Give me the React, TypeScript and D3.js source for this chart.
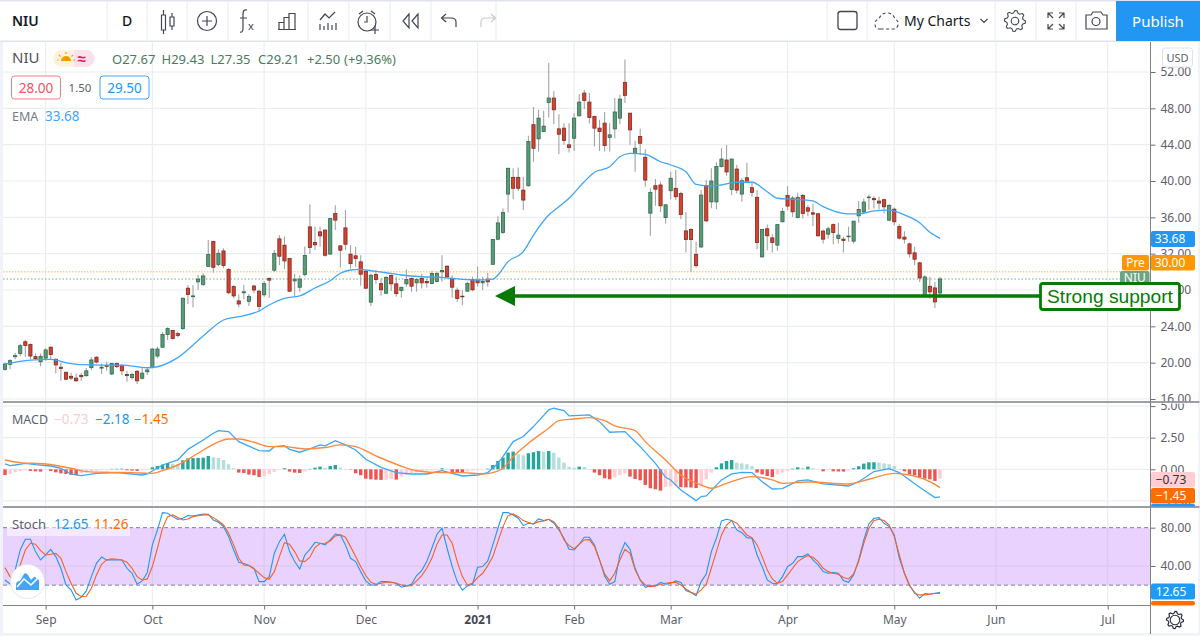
import React, { useRef, useEffect } from 'react';
import * as d3 from 'd3';

// Daily prices, one entry per trading day
const opens = [19.27,19.82,20.66,21.0,22.3,22.0,20.66,20.1,20.5,21.7,20.37,19.5,18.94,18.5,18.3,18.6,18.57,19.45,20.6,19.4,19.7,18.75,19.9,19.7,18.7,18.35,19.05,18.28,19.0,19.45,20.73,21.7,23.1,23.55,23.2,23.75,28.2,27.27,28.9,28.6,30.6,33.36,30.8,32.3,30.27,28.37,26.8,27.7,26.75,28.44,27.87,27.47,29.27,30.18,33.63,32.93,31.47,29.0,28.3,29.7,34.95,33.23,34.4,34.6,31.95,36.42,32.86,34.84,31.95,31.76,31.1,30.07,26.66,29.7,28.7,27.65,29.6,28.68,27.94,28.68,29.27,28.79,29.27,28.94,28.71,28.94,30.0,30.62,29.27,27.98,27.32,27.87,29.15,29.08,28.79,29.19,30.83,33.59,34.33,38.56,40.4,40.4,39.0,39.48,46.2,44.64,45.45,48.65,49.13,45.74,45.82,43.98,44.71,47.18,49.68,48.69,47.1,45.82,46.37,44.79,45.74,46.92,50.86,47.47,43.05,44.9,42.61,36.46,39.48,39.56,35.98,38.93,39.19,38.63,34.51,34.66,31.93,32.74,39.48,37.7,37.7,41.58,42.31,39.08,41.32,38.56,40.36,39.26,38.2,31.65,34.74,33.74,32.94,35.51,38.41,38.12,35.99,38.41,37.05,36.5,36.39,34.48,34.15,35.2,33.67,33.6,33.86,33.38,36.17,36.58,38.16,38.08,37.79,37.94,35.69,36.9,34.99,33.82,33.08,32.09,30.99,27.31,28.41,28.23,27.67];
const highs = [20.0,20.37,21.1,22.06,22.5,22.1,21.0,21.0,21.6,21.8,20.5,20.0,19.0,18.9,18.8,18.9,19.4,20.6,20.7,19.9,20.1,19.9,20.0,19.8,19.1,18.9,19.2,19.4,19.4,21.6,21.75,23.4,23.9,23.6,23.4,27.15,28.55,28.55,29.65,29.85,33.5,33.4,32.5,32.6,30.4,28.55,27.5,28.55,27.56,28.55,28.0,29.0,29.38,32.4,34.04,33.9,31.47,29.8,29.6,32.8,37.4,34.95,34.95,34.66,35.9,37.34,32.93,36.8,32.93,32.75,31.83,30.18,29.8,30.18,29.27,29.56,29.7,29.45,28.35,30.26,29.38,29.27,29.8,29.27,30.07,30.0,31.83,30.73,29.63,28.27,27.98,28.9,29.45,30.6,29.45,29.9,33.56,36.13,36.98,41.47,41.4,41.5,40.48,44.97,48.14,47.84,47.73,53.0,49.87,47.36,46.37,46.37,47.47,49.57,50.05,49.68,47.18,46.74,47.6,46.37,49.13,49.5,53.37,47.5,44.42,45.74,43.5,39.19,40.22,39.92,37.42,41.03,41.2,38.82,36.6,34.8,33.3,39.0,40.1,41.4,42.06,43.6,43.97,42.42,41.76,40.29,42.0,39.92,39.0,34.7,35.2,34.15,35.25,37.05,39.44,38.34,38.71,38.56,37.35,37.46,36.45,34.66,34.96,35.33,35.4,33.86,34.96,35.6,37.79,38.08,38.52,38.34,38.27,38.08,37.46,37.09,35.25,34.48,33.19,32.75,31.1,29.63,29.44,28.89,29.43];
const lows = [19.12,19.27,20.37,20.73,20.66,20.37,20.3,19.6,20.2,20.3,18.8,18.0,18.1,18.1,17.9,18.0,18.46,19.2,19.9,18.75,19.1,18.65,19.4,18.65,17.9,18.15,17.65,18.15,18.65,19.4,20.5,21.65,22.5,22.57,22.8,23.6,26.45,26.1,28.0,28.45,30.57,29.9,30.65,30.4,27.56,27.1,26.1,27.0,26.24,27.63,25.6,27.25,27.14,30.0,30.73,30.3,27.8,27.3,27.8,29.5,31.95,32.4,32.75,31.65,31.93,34.6,30.48,32.38,30.36,30.55,28.46,28.09,26.25,28.7,27.36,27.54,27.9,27.25,27.14,28.35,27.8,27.8,28.17,28.24,28.64,28.83,28.9,29.27,27.14,26.7,26.33,27.8,27.87,28.35,27.98,28.35,30.76,33.48,34.2,36.53,38.0,38.9,36.8,39.37,42.13,43.24,45.37,47.0,46.26,42.98,43.98,43.13,43.31,47.1,47.92,46.37,43.79,43.31,43.24,43.24,44.71,46.26,48.58,43.98,41.03,42.87,39.37,33.96,37.27,36.6,35.32,38.0,37.9,35.8,32.12,30.0,30.46,32.63,35.5,37.0,36.9,41.5,40.58,38.45,38.63,37.72,39.92,38.27,32.5,31.54,32.38,32.13,32.31,35.45,36.8,36.06,35.88,35.88,36.13,35.03,33.86,33.12,33.67,33.05,33.12,32.13,33.3,33.12,35.4,36.43,36.87,36.98,36.87,36.43,35.58,35.14,33.56,33.12,31.58,30.73,28.89,27.25,27.05,26.02,27.35];
const closes = [19.85,20.22,20.77,21.87,21.9,20.73,20.44,20.7,21.4,20.9,19.75,19.35,18.17,18.3,18.0,18.46,19.1,20.3,20.07,19.5,19.6,19.9,19.56,19.1,18.57,18.7,18.0,18.85,19.2,21.5,21.5,23.1,23.75,22.65,23.0,27.1,27.5,27.35,29.2,29.55,31.9,30.5,32.04,30.7,27.7,27.35,26.46,27.8,27.3,28.0,26.2,28.7,29.08,32.02,31.72,31.2,27.87,29.2,29.2,31.8,32.68,32.97,33.96,31.83,35.87,35.69,32.38,33.04,30.9,31.47,29.74,28.2,29.63,29.16,28.02,29.38,28.68,27.6,28.3,29.15,28.42,29.15,28.79,28.79,29.82,29.82,30.15,29.45,28.31,27.06,27.25,28.71,28.02,28.79,28.94,28.9,33.55,35.39,36.53,41.4,39.2,39.2,37.9,44.34,43.6,46.92,46.04,49.13,47.84,45.15,44.45,43.68,46.92,48.69,48.87,47.0,45.82,45.45,43.9,45.08,47.6,49.02,49.43,45.63,43.6,44.16,40.1,38.75,39.1,37.27,37.38,40.3,38.27,36.31,33.55,33.55,30.68,38.45,35.61,40.0,41.6,42.42,41.0,42.42,39.0,40.03,39.99,38.75,33.23,34.66,33.97,33.23,35.2,36.65,37.24,36.61,38.2,36.43,36.68,36.35,33.97,33.6,34.74,34.33,34.04,33.45,33.93,35.58,36.87,37.68,38.23,37.94,37.57,37.16,37.31,35.51,33.71,33.6,31.98,31.39,29.33,29.44,27.79,26.69,29.21];

// EMA, MACD and signal read at the days where the curves bend
const emaDays = [0,5,9,12,15,19,23,28,30,34,39,43,46,50,52,55,58,61,64,66,68,70,72,75,78,82,86,90,93,96,97,99,102,104,107,109,111,114,116,119,121,123,126,129,131,134,136,139,141,144,147,150,152,155,159,161,166,168,171,174,177,180,182,184];
const emaValues = [19.85,20.29,20.37,20.0,19.78,19.74,19.74,19.44,19.55,20.55,22.93,24.7,25.06,25.69,26.35,27.08,27.34,28.22,29.02,29.84,30.2,30.28,30.12,29.9,29.65,29.46,29.4,29.18,29.1,29.2,29.65,31.12,32.22,34.05,36.26,37.17,38.1,39.92,40.96,41.57,42.67,43.05,42.94,42.12,41.76,41.02,39.64,39.45,39.56,39.86,39.86,38.82,38.1,37.99,37.8,37.17,36.37,36.37,36.7,36.8,36.26,35.41,34.35,33.68];

const macdDays = [0,1,2,4,6,9,11,13,15,18,22,27,28,31,34,36,39,41,42,44,46,50,52,53,55,56,58,60,62,63,65,67,69,71,74,77,80,83,86,90,93,95,97,98,100,102,104,107,108,110,111,115,117,119,122,125,128,130,131,133,136,137,138,141,143,145,147,149,151,153,156,158,161,166,168,171,174,176,180,183,184];
const macdValues = [0.42,0.29,0.34,0.47,0.37,0.26,0.08,-0.37,-0.5,-0.32,-0.26,-0.45,-0.37,0.34,0.74,1.58,2.32,2.85,3.06,2.98,2.19,1.48,1.45,1.79,1.87,1.58,1.35,1.61,1.93,1.85,2.27,1.93,1.53,0.79,0.16,-0.26,-0.37,-0.37,-0.11,-0.53,-0.45,-0.26,0.47,1.0,2.19,2.59,3.38,4.7,4.83,4.64,4.22,4.3,3.77,2.93,2.98,1.79,0.47,-0.63,-0.84,-1.64,-2.48,-2.16,-2.11,-0.84,-0.37,-0.24,-0.26,-0.98,-1.56,-1.53,-0.92,-0.84,-1.16,-1.32,-0.98,-0.18,0.05,-0.26,-1.42,-2.24,-2.18];
const signalDays = [0,3,8,13,16,21,25,29,31,34,38,41,44,46,49,52,55,59,63,66,69,73,77,81,86,90,94,96,98,100,103,107,109,112,115,118,120,124,126,130,133,137,139,142,147,151,153,158,166,170,175,178,182,184];
const signalValues = [0.74,0.53,0.42,0.08,-0.18,-0.24,-0.26,-0.32,-0.11,0.34,1.27,1.98,2.4,2.4,2.14,1.79,1.79,1.61,1.72,1.93,1.79,1.06,0.4,-0.11,-0.26,-0.26,-0.37,-0.26,0.08,1.0,2.06,3.25,3.85,3.98,4.09,3.85,3.43,3.06,2.19,0.74,-0.45,-1.24,-1.5,-1.11,-0.58,-0.84,-1.11,-1.0,-1.16,-0.79,-0.32,-0.45,-0.98,-1.45];
const histValues = [-0.45,-0.37,-0.24,-0.13,-0.08,-0.13,-0.16,-0.18,-0.05,-0.13,-0.24,-0.32,-0.37,-0.45,-0.47,-0.32,-0.24,-0.16,-0.1,-0.05,-0.03,0.03,0.04,0.05,-0.08,-0.1,-0.13,-0.08,-0.05,0.16,0.26,0.37,0.5,0.45,0.4,0.71,0.87,0.89,0.9,0.92,1.05,0.95,0.9,0.74,0.4,0.08,-0.26,-0.29,-0.42,-0.47,-0.61,-0.55,-0.37,-0.21,-0.05,0.08,-0.18,-0.26,-0.29,-0.16,0.03,0.13,0.21,0.11,0.26,0.34,0.13,0.03,-0.03,-0.32,-0.47,-0.74,-0.79,-0.82,-0.84,-0.82,-0.77,-0.82,-0.58,-0.45,-0.32,-0.24,-0.16,-0.1,-0.08,-0.05,0.08,0.05,-0.21,-0.22,-0.26,-0.16,-0.1,-0.08,-0.03,0.05,0.34,0.66,0.92,1.32,1.4,1.19,1.11,1.27,1.35,1.45,1.4,1.45,1.32,0.92,0.53,0.21,0.13,0.21,0.18,0.03,-0.26,-0.47,-0.71,-0.79,-0.63,-0.45,-0.32,-0.58,-0.77,-0.87,-1.24,-1.5,-1.58,-1.69,-1.4,-1.35,-1.29,-1.42,-1.43,-1.44,-1.48,-1.19,-0.79,-0.26,0.16,0.47,0.66,0.74,0.53,0.47,0.4,0.26,-0.26,-0.4,-0.53,-0.61,-0.4,-0.26,-0.13,0.05,0.16,0.11,0.21,0.08,0.01,-0.16,-0.05,-0.16,-0.17,-0.18,-0.08,0.08,0.24,0.45,0.55,0.56,0.53,0.47,0.4,0.26,-0.01,-0.16,-0.4,-0.47,-0.61,-0.74,-0.79,-0.92,-0.73];

const stochK = [25.4,21.3,35.9,56.7,67.9,67.9,55,46.3,51.5,57.4,49.8,37.6,20.2,15,4.6,7.4,14,28.9,42.8,49.4,46.3,46.3,46.3,46.3,37.6,32.4,20.9,24.4,33.1,62,77.6,95.7,95,91.5,88.7,89.8,92.6,92.2,93.3,94.3,94,88,85.6,81.1,70.7,56.7,43.9,42.5,40.4,37.6,23.7,23.7,28.9,53.3,65.4,73.1,55,44.6,36.9,51.5,57.4,64.7,63.7,62,67.2,73.4,72.4,62,48,44.6,34.1,24.4,20.2,20.2,23.7,23.7,23,22,17.8,19.2,20.9,30,35.2,44.6,58.5,73.1,79.4,58.5,39.4,23.7,14.7,19.2,20.9,38.7,39.4,45.3,62,79.4,95.7,95.7,93.3,89.8,82.1,84.6,83.9,89.1,87.4,88.7,84.6,77.6,68.9,57.4,56.7,62.7,70,70,62,46.3,29.6,20.9,23.7,51.5,64.4,57.4,37.6,25.4,17.8,19.2,19.2,23,20.9,22,24.4,22.7,14.3,12.2,9.1,23.7,31.7,55,68.9,87,88.7,87.4,77.6,74.8,69.6,68.9,51.5,39.4,25.4,22,21.3,28.9,39.4,42.8,49.8,49.8,52.6,46.3,41.1,34.1,32.4,33.1,32.4,24.7,23,30.7,46.3,67.2,83.9,89.8,90.5,84.6,81.1,72.4,48,32.4,19.5,12.6,6.3,11.2,10.8,11.2,12.65];
const stochD = [38.3,28.9,20.2,41.1,56.7,63.7,62.7,56,51.5,52.2,53.3,48,34.1,22,11.5,8.1,8.4,16.7,30.7,41.8,46.3,47.4,47,46.3,43.9,37.6,28.9,25.4,26.5,39.4,58.5,79.4,91.5,93.3,90.5,88,89.1,91.5,92.6,93.3,93.3,90.5,87,82.8,74.1,62,48,41.1,40.4,36.9,32.4,27.9,26.1,34.1,49.8,64.4,62.7,55,45.3,44.6,49.1,59.2,63.4,63.7,66.1,71.4,72.4,70,60.2,49.8,39.4,30,23,20.9,22,23,23,22,20.2,19.2,19.5,24.4,30,37.6,48,62.7,72.4,72.4,63.7,44.6,28.9,20.2,22,27.9,32.4,40.4,49.8,65.4,81.1,92.6,94.3,91.5,87.4,85.3,83.9,86.3,87,88.7,86.3,79.4,67.2,61.3,57.8,62.7,67.2,67.5,60.2,46.3,31.7,24.4,32.4,46.3,57.4,53.3,35.9,25.4,20.2,18.5,19.2,20.9,22,22.7,23,20.2,16,12.6,10.5,15,20.9,37.6,55,72.4,82.8,87.4,84.6,78.7,72.4,69.6,62,49.8,35.9,26.5,22,23.7,30.7,37.6,44.6,48,50.8,49.1,44.6,37.6,34.1,32.4,31.4,27.9,26.5,31.7,44.6,63.7,79.4,87.4,88.7,87.4,82.8,70.7,51.5,32.4,20.2,11.5,9.8,9.8,10.5,11.5,11.26];

const priceTicks = [52, 48, 44, 40, 36, 32, 28, 24, 20, 16];
const macdTicks = [5, 2.5, 0, -2.5];
const stochTicks = [80, 40];
const timeDays = [8, 29, 51, 71, 93, 112, 131, 154, 175, 195, 217];
const timeLabels = ['Sep', 'Oct', 'Nov', 'Dec', '2021', 'Feb', 'Mar', 'Apr', 'May', 'Jun', 'Jul'];

const FONT = '"Noto Sans", sans-serif';
const AXIS_X = 1150.5;
const UP = '#5b9a78', UP_EDGE = '#2f6b4e', DOWN = '#d8402f', DOWN_EDGE = '#7c2a20';
const BLUE = '#2196f3', ORANGE = '#ff6d00', GRID = '#eceef2', SUPPORT = '#067a06';

const gearPath = (cx: number, cy: number, r: number, teeth: number) => {
  const pts: [number, number][] = [];
  for (let i = 0; i < teeth * 4; i++) {
    const a = (i / (teeth * 4)) * 2 * Math.PI;
    const rr = i % 4 < 2 ? r : r * 0.78;
    pts.push([cx + rr * Math.cos(a), cy + rr * Math.sin(a)]);
  }
  return (d3.line().curve(d3.curveLinearClosed)(pts) as string);
};

const App: React.FC = () => {
  const svgRef = useRef<SVGSVGElement>(null);

  useEffect(() => {
    if (!svgRef.current) return;
    const svg = d3.select(svgRef.current);
    svg.selectAll('*').remove();
    svg.style('font-family', FONT);

    const x = d3.scaleLinear().domain([0, 184]).range([5, 940]);
    const yPrice = d3.scaleLinear().domain([52, 16]).range([72, 399]);
    const yMacd = d3.scaleLinear().domain([5, -2.5]).range([406.1, 500.9]);
    const yStoch = d3.scaleLinear().domain([0, 100]).range([604.3, 508.5]);

    const defs = svg.append('defs');
    const clip = (id: string, top: number, bottom: number, left = 0, right = AXIS_X) =>
      defs.append('clipPath').attr('id', id).append('rect')
        .attr('x', left).attr('y', top).attr('width', right - left).attr('height', bottom - top);
    clip('pricePane', 42, 401.5);
    clip('macdPane', 403.5, 506);
    clip('stochPane', 508.5, 605);
    clip('priceAxis', 42, 401.5, AXIS_X, 1200);
    clip('macdAxis', 403.5, 506, AXIS_X, 1200);
    clip('stochAxis', 508.5, 605, AXIS_X, 1200);

    // page
    svg.append('rect').attr('width', 1200).attr('height', 636).attr('fill', '#f0f3fa');
    svg.append('rect').attr('x', 3).attr('y', 42).attr('width', 1195).attr('height', 591).attr('fill', '#fff');

    // vertical grid through all panes
    svg.append('g').selectAll('line').data(timeDays).join('line')
      .attr('x1', d => x(d)).attr('x2', d => x(d))
      .attr('y1', 42).attr('y2', 605)
      .attr('stroke', GRID).attr('stroke-width', 1.2);

    const hGrid = (scale: d3.ScaleLinear<number, number>, ticks: number[]) =>
      svg.append('g').selectAll('line').data(ticks).join('line')
        .attr('x1', 3).attr('x2', AXIS_X)
        .attr('y1', d => scale(d)).attr('y2', d => scale(d))
        .attr('stroke', GRID).attr('stroke-width', 1.2);
    hGrid(yPrice, priceTicks);
    hGrid(yMacd, macdTicks);

    // main pane: price lines, candles, EMA
    const pricePane = svg.append('g').attr('clip-path', 'url(#pricePane)');
    pricePane.append('line')
      .attr('x1', 3).attr('x2', 1122).attr('y1', yPrice(30)).attr('y2', yPrice(30))
      .attr('stroke', '#ffb74d').attr('stroke-width', 1).attr('stroke-dasharray', '1.5 1.5');
    pricePane.append('line')
      .attr('x1', 3).attr('x2', 1122).attr('y1', yPrice(29.21)).attr('y2', yPrice(29.21))
      .attr('stroke', '#6fb08d').attr('stroke-width', 1).attr('stroke-dasharray', '1.5 2');

    const days = d3.range(closes.length);
    pricePane.append('g').selectAll('line').data(days).join('line')
      .attr('x1', d => x(d)).attr('x2', d => x(d))
      .attr('y1', d => yPrice(highs[d])).attr('y2', d => yPrice(lows[d]))
      .attr('stroke', '#a3a3a3').attr('stroke-width', 1.1);
    pricePane.append('g').selectAll('rect').data(days).join('rect')
      .attr('x', d => x(d) - 1.6).attr('width', 3.2)
      .attr('y', d => yPrice(Math.max(opens[d], closes[d])))
      .attr('height', d => Math.max(0.4, Math.abs(yPrice(opens[d]) - yPrice(closes[d]))))
      .attr('fill', d => (closes[d] >= opens[d] ? UP : DOWN))
      .attr('stroke', d => (closes[d] >= opens[d] ? UP_EDGE : DOWN_EDGE))
      .attr('stroke-width', 0.8);

    const emaLine = d3.line<number>()
      .x((d, i) => x(emaDays[i]))
      .y(d => yPrice(d))
      .curve(d3.curveMonotoneX);
    pricePane.append('path').datum(emaValues)
      .attr('d', emaLine).attr('fill', 'none')
      .attr('stroke', '#42a5f5').attr('stroke-width', 1.3);

    // MACD pane
    const macdPane = svg.append('g').attr('clip-path', 'url(#macdPane)');
    const histColor = (v: number, i: number) => {
      const prev = i > 0 ? histValues[i - 1] : 0;
      if (v >= 0) return v > prev ? '#26a69a' : '#b2dfdb';
      return v < prev ? '#ef5350' : '#ffcdd2';
    };
    macdPane.append('g').selectAll('rect').data(histValues).join('rect')
      .attr('x', (d, i) => x(i) - 1.7).attr('width', 3.4)
      .attr('y', d => Math.min(yMacd(d), yMacd(0)))
      .attr('height', d => Math.abs(yMacd(d) - yMacd(0)))
      .attr('fill', histColor);
    const macdLine = (xs: number[]) => d3.line<number>()
      .x((d, i) => x(xs[i]))
      .y(d => yMacd(d));
    macdPane.append('path').datum(macdValues)
      .attr('d', macdLine(macdDays)).attr('fill', 'none')
      .attr('stroke', '#3ea6f5').attr('stroke-width', 1.3);
    macdPane.append('path').datum(signalValues)
      .attr('d', macdLine(signalDays).curve(d3.curveMonotoneX)).attr('fill', 'none')
      .attr('stroke', '#ff8a3c').attr('stroke-width', 1.4);

    // Stochastic pane
    const stochPane = svg.append('g').attr('clip-path', 'url(#stochPane)');
    stochPane.append('rect')
      .attr('x', 3).attr('width', AXIS_X - 3)
      .attr('y', yStoch(80)).attr('height', yStoch(20) - yStoch(80))
      .attr('fill', '#e9d2fd');
    stochPane.append('line')
      .attr('x1', 3).attr('x2', AXIS_X).attr('y1', yStoch(40)).attr('y2', yStoch(40))
      .attr('stroke', '#dcc6ef').attr('stroke-width', 1.2);
    stochPane.append('g').selectAll('line').data(timeDays).join('line')
      .attr('x1', d => x(d)).attr('x2', d => x(d))
      .attr('y1', yStoch(80)).attr('y2', yStoch(20))
      .attr('stroke', '#dcc6ef').attr('stroke-width', 1.2);
    stochPane.append('g').selectAll('line').data([80, 20]).join('line')
      .attr('x1', 3).attr('x2', AXIS_X).attr('y1', d => yStoch(d)).attr('y2', d => yStoch(d))
      .attr('stroke', '#85828c').attr('stroke-width', 1).attr('stroke-dasharray', '4 3');
    const stochLine = d3.line<number>()
      .x((d, i) => x(i))
      .y(d => yStoch(d));
    stochPane.append('path').datum(stochK).attr('d', stochLine).attr('fill', 'none')
      .attr('stroke', BLUE).attr('stroke-width', 1.1);
    stochPane.append('path').datum(stochD).attr('d', stochLine).attr('fill', 'none')
      .attr('stroke', '#f4612a').attr('stroke-width', 1.1);
    svg.append('rect').attr('x', 7).attr('y', 509).attr('width', 123).attr('height', 27)
      .attr('fill', '#fff').attr('opacity', 0.5);

    // logo badge
    svg.append('circle').attr('cx', 27.5).attr('cy', 581.5).attr('r', 17)
      .attr('fill', '#fff').attr('stroke', '#e6e6ea').attr('stroke-width', 1);
    svg.append('path')
      .attr('d', 'M16 590 L16 585 Q16 581 20 581 L24 574 Q26 572 28 575 L31 580 L34 577 Q35 576 36 578 Q40 579 39 584 L39 590 Z')
      .attr('fill', '#42a5f5');
    svg.append('path')
      .attr('d', 'M17 587 L24 579 L31 585 L38 578')
      .attr('fill', 'none').attr('stroke', '#fff').attr('stroke-width', 1.6);

    // dividers and axes
    const fmt = (d: number) => d.toFixed(2).replace('-', '\u2212');
    const styleAxis = (g: d3.Selection<SVGGElement, unknown, null, undefined>) => {
      g.select('.domain').remove();
      g.selectAll('line').attr('stroke', '#6a6d78');
      g.selectAll('text').attr('fill', '#5d606b').attr('font-size', 12).attr('font-family', FONT);
    };
    svg.append('g').attr('clip-path', 'url(#priceAxis)').append('g')
      .attr('transform', `translate(${AXIS_X},0)`)
      .call(d3.axisRight(yPrice).tickValues(priceTicks).tickFormat(d => fmt(+d)).tickSize(5).tickPadding(5))
      .call(styleAxis);
    svg.append('g').attr('clip-path', 'url(#macdAxis)').append('g')
      .attr('transform', `translate(${AXIS_X},0)`)
      .call(d3.axisRight(yMacd).tickValues(macdTicks).tickFormat(d => fmt(+d)).tickSize(5).tickPadding(5))
      .call(styleAxis);
    svg.append('g').attr('clip-path', 'url(#stochAxis)').append('g')
      .attr('transform', `translate(${AXIS_X},0)`)
      .call(d3.axisRight(yStoch).tickValues(stochTicks).tickFormat(d => fmt(+d)).tickSize(5).tickPadding(5))
      .call(styleAxis);

    const timeAxis = d3.axisBottom(x)
      .tickValues(timeDays)
      .tickFormat((d, i) => timeLabels[i])
      .tickSize(4).tickPadding(6);
    const timeG = svg.append('g').attr('transform', 'translate(0,605.5)').call(timeAxis).call(styleAxis);
    timeG.selectAll('text')
      .attr('font-weight', (d, i) => (timeLabels[i] === '2021' ? 700 : 400))
      .attr('fill', (d, i) => (timeLabels[i] === '2021' ? '#434651' : '#5d606b'));

    svg.append('line').attr('x1', 3).attr('x2', AXIS_X + 49).attr('y1', 402).attr('y2', 402)
      .attr('stroke', '#7f8188').attr('stroke-width', 1.4);
    svg.append('line').attr('x1', 3).attr('x2', AXIS_X + 49).attr('y1', 507).attr('y2', 507)
      .attr('stroke', '#9c9ea4').attr('stroke-width', 1.8);
    svg.append('line').attr('x1', 3).attr('x2', AXIS_X).attr('y1', 605.5).attr('y2', 605.5)
      .attr('stroke', '#7f8188').attr('stroke-width', 1);
    svg.append('line').attr('x1', AXIS_X).attr('x2', AXIS_X).attr('y1', 41).attr('y2', 634)
      .attr('stroke', '#7f8188').attr('stroke-width', 1);

    // value labels on the axes
    const valueLabel = (x0: number, w: number, y0: number, h: number, fill: string, label: string, color = '#fff', dx = 0) => {
      svg.append('rect').attr('x', x0).attr('y', y0).attr('width', w).attr('height', h)
        .attr('rx', 2).attr('fill', fill);
      if (label) {
        svg.append('text').attr('x', x0 + w / 2 + dx).attr('y', y0 + h / 2 + 4.3)
          .attr('text-anchor', 'middle').attr('fill', color).attr('font-size', 12).text(label);
      }
    };
    valueLabel(1151, 44, 231, 16, BLUE, '33.68', '#fff', -3);
    valueLabel(1122, 27, 255, 15.5, '#ff9800', 'Pre');
    valueLabel(1151, 44, 255, 15.5, '#ff9800', '30.00', '#fff', -3);
    valueLabel(1120, 29.5, 271, 14, '#6ba583', 'NIU');
    valueLabel(1151, 44, 472, 15.5, '#ffcdd2', '\u22120.73', '#333', -2);
    valueLabel(1151, 44, 488, 15.5, ORANGE, '\u22121.45', '#fff', -2);
    valueLabel(1151, 44, 504, 2.5, BLUE, '');
    valueLabel(1151, 44, 583.5, 16, '#1e9bf5', '12.65', '#fff', -2);
    valueLabel(1151, 44, 601, 4.5, ORANGE, '');

    // support annotation
    svg.append('line').attr('x1', 510).attr('x2', 1042).attr('y1', 296).attr('y2', 296)
      .attr('stroke', SUPPORT).attr('stroke-width', 3.4);
    svg.append('path').attr('d', 'M495 296 L515 286 L515 306 Z').attr('fill', SUPPORT);
    svg.append('rect').attr('x', 1040.5).attr('y', 283.5).attr('width', 139).attr('height', 26)
      .attr('rx', 2.5).attr('fill', '#fff').attr('stroke', SUPPORT).attr('stroke-width', 2.8);
    svg.append('text').attr('x', 1110).attr('y', 303).attr('text-anchor', 'middle')
      .attr('font-family', '"Liberation Sans", sans-serif').attr('font-size', 19.2)
      .attr('fill', SUPPORT).text('Strong support');

    // legends
    const txt = (tx: number, ty: number, s: string, fill: string, size = 13, extra: Record<string, any> = {}) => {
      const t = svg.append('text').attr('x', tx).attr('y', ty).attr('fill', fill).attr('font-size', size).text(s);
      Object.entries(extra).forEach(([k, v]) => t.attr(k, v));
      return t;
    };
    txt(12, 63, 'NIU', '#50535e', 15);
    svg.append('path').attr('d', 'M61.5 50 H74 V67 H61.5 A8.5 8.5 0 0 1 61.5 50 Z').attr('fill', '#fff3e0');
    svg.append('path').attr('d', 'M74 50 H86 A8.5 8.5 0 0 1 86 67 H74 Z').attr('fill', '#fce0ea');
    svg.append('path').attr('d', 'M61 61 A5 5 0 0 1 71 61 Z').attr('fill', '#ff9800');
    svg.append('path').attr('d', 'M66 52 V54 M59 55 L60.5 56.5 M73 55 L71.5 56.5 M57 60 H58.5 M73.5 60 H75')
      .attr('stroke', '#ff9800').attr('stroke-width', 1.2);
    txt(77.5, 64, '\u2248', '#d81b60', 15, { 'font-weight': 700 });
    const ohlcColor = '#4c7a5f';
    txt(112, 64, 'O27.67', ohlcColor);
    txt(161.5, 64, 'H29.43', ohlcColor);
    txt(210.5, 64, 'L27.35', ohlcColor);
    txt(258, 64, 'C29.21', ohlcColor);
    txt(307, 64, '+2.50', ohlcColor);
    txt(344, 64, '(+9.36%)', ohlcColor);

    svg.append('rect').attr('x', 11.5).attr('y', 76).attr('width', 49).attr('height', 23)
      .attr('rx', 3).attr('fill', '#fff').attr('stroke', '#f77c80').attr('stroke-width', 1);
    txt(36, 92.5, '28.00', '#f7525f', 13.5, { 'text-anchor': 'middle' });
    txt(80, 92, '1.50', '#5d606b', 11.5, { 'text-anchor': 'middle' });
    svg.append('rect').attr('x', 100).attr('y', 76).attr('width', 49).attr('height', 23)
      .attr('rx', 3).attr('fill', '#fff').attr('stroke', '#42a5f5').attr('stroke-width', 1);
    txt(124.5, 92.5, '29.50', BLUE, 13.5, { 'text-anchor': 'middle' });
    txt(12, 121, 'EMA', '#787b86', 12.5);
    txt(45, 121, '33.68', '#42a5f5', 13.5);

    txt(12, 423.5, 'MACD', '#5d606b', 12.5);
    txt(54, 423.5, '\u22120.73', '#ffcdd2', 13.5);
    txt(95, 423.5, '\u22122.18', BLUE, 13.5);
    txt(134, 423.5, '\u22121.45', ORANGE, 13.5);
    txt(12, 528.5, 'Stoch', '#5d606b', 13);
    txt(54, 528.5, '12.65', BLUE, 13.5);
    txt(94, 528.5, '11.26', ORANGE, 13.5);

    svg.append('rect').attr('x', 1162.5).attr('y', 48).attr('width', 30).attr('height', 19)
      .attr('rx', 3).attr('fill', '#fff').attr('stroke', '#e0e3eb');
    txt(1177.5, 62, 'USD', '#5d606b', 11, { 'text-anchor': 'middle' });

    // toolbar
    const bar = svg.append('g');
    bar.append('rect').attr('width', 1200).attr('height', 41).attr('fill', '#fff');
    bar.append('rect').attr('y', 0).attr('width', 1200).attr('height', 1.5).attr('fill', '#e0e3eb');
    bar.append('rect').attr('y', 40.5).attr('width', 1200).attr('height', 1.5).attr('fill', '#e0e3eb');
    bar.selectAll('line.sep').data([107, 147, 187, 228, 268, 308, 349, 390, 431, 496, 827, 867, 995, 1036, 1076]).join('line')
      .attr('x1', d => d).attr('x2', d => d).attr('y1', 1).attr('y2', 40)
      .attr('stroke', '#e8eaf0').attr('stroke-width', 1);
    const icon = (d: string, stroke = '#434651', w = 1.2) =>
      bar.append('path').attr('d', d).attr('fill', 'none').attr('stroke', stroke).attr('stroke-width', w);

    bar.append('text').attr('x', 12).attr('y', 26).attr('font-size', 14).attr('font-weight', 600).attr('fill', '#131722').text('NIU');
    bar.append('text').attr('x', 127).attr('y', 26).attr('font-size', 14).attr('font-weight', 500).attr('text-anchor', 'middle').attr('fill', '#131722').text('D');
    // candles
    icon('M161.5 15 h4 v15 h-4 z M163.5 10 v5 M163.5 30 v4 M170 17 h4 v9 h-4 z M172 13 v4 M172 26 v4');
    // plus in circle
    bar.append('circle').attr('cx', 207).attr('cy', 21).attr('r', 9.5).attr('fill', 'none').attr('stroke', '#434651').attr('stroke-width', 1.2);
    icon('M207 16 v10 M202 21 h10');
    // fx
    icon('M247 10 Q243 9 243 14 V28 Q243 33 240 32 M240 18 H247');
    bar.append('text').attr('x', 248).attr('y', 30).attr('font-size', 11).attr('fill', '#434651').text('x');
    // bars
    icon('M279 29.5 v-7 h5 v7 M284 29.5 v-12 h5 v12 M289 29.5 v-16 h6 v16 M278 29.5 h18');
    // indicators
    icon('M320 20 L325 14 L329 18 L335 12');
    icon('M320 30 v-6 M324 30 v-4 M328 30 v-7 M332 30 v-5 M336 30 v-7');
    // alarm
    bar.append('circle').attr('cx', 367).attr('cy', 22).attr('r', 9).attr('fill', 'none').attr('stroke', '#434651').attr('stroke-width', 1.2);
    icon('M367 16 v6 h-3 M359 14 L363 11 M375 14 L371 11 M375 26 v8 M371 30 h8');
    // rewind
    icon('M409 14 L403 21 L409 28 Z M418 14 L412 21 L418 28 Z');
    // undo / redo
    icon('M456 27 V22 Q456 18 451 18 H442 M446 14 L441.5 18 L446 22');
    icon('M481 27 V22 Q481 18 486 18 H495 M491 14 L495.5 18 L491 22', '#c8cad0');
    // right hand side
    bar.append('rect').attr('x', 838).attr('y', 11.5).attr('width', 19).attr('height', 18).attr('rx', 2.5).attr('fill', 'none').attr('stroke', '#434651').attr('stroke-width', 1.3);
    icon('M881 29 H880 Q875 29 875 24 Q875 20 879 19 Q881 13 887 13 Q893 13 895 19 Q899 21 898 25 Q897 29 893 29 Z', '#434651', 1.1).attr('stroke-dasharray', '3 2.5');
    bar.append('text').attr('x', 904).attr('y', 26).attr('font-size', 14).attr('fill', '#131722').text('My Charts');
    icon('M980.5 19 L984 22.5 L987.5 19');
    bar.append('path').attr('d', gearPath(1015, 21, 10.5, 8)).attr('fill', 'none').attr('stroke', '#434651').attr('stroke-width', 1.1);
    bar.append('circle').attr('cx', 1015).attr('cy', 21).attr('r', 3.8).attr('fill', 'none').attr('stroke', '#434651').attr('stroke-width', 1.1);
    icon('M1048 18 V13 H1053 M1048 13 L1053 18 M1064 18 V13 H1059 M1064 13 L1059 18 M1048 24 V29 H1053 M1048 29 L1053 24 M1064 24 V29 H1059 M1064 29 L1059 24');
    icon('M1086 15 H1091 L1093 12 H1101 L1103 15 H1107 V29 H1086 Z');
    bar.append('circle').attr('cx', 1096).attr('cy', 21.5).attr('r', 4).attr('fill', 'none').attr('stroke', '#434651').attr('stroke-width', 1.2);
    bar.append('rect').attr('x', 1116).attr('y', 1).attr('width', 84).attr('height', 40).attr('fill', BLUE);
    bar.append('text').attr('x', 1158).attr('y', 26.5).attr('text-anchor', 'middle').attr('font-size', 15).attr('fill', '#fff').text('Publish');

    // settings gear bottom right
    svg.append('path').attr('d', gearPath(1175, 620, 8.5, 8)).attr('fill', 'none').attr('stroke', '#2a2e39').attr('stroke-width', 1.2);
    svg.append('circle').attr('cx', 1175).attr('cy', 620).attr('r', 4.8).attr('fill', 'none').attr('stroke', '#2a2e39').attr('stroke-width', 1.1);
  }, []);

  return (
    <div>
      <style>{'body{margin:0}'}</style>
      <svg ref={svgRef} width={1200} height={636} style={{ display: 'block' }} />
    </div>
  );
};

export default App;
